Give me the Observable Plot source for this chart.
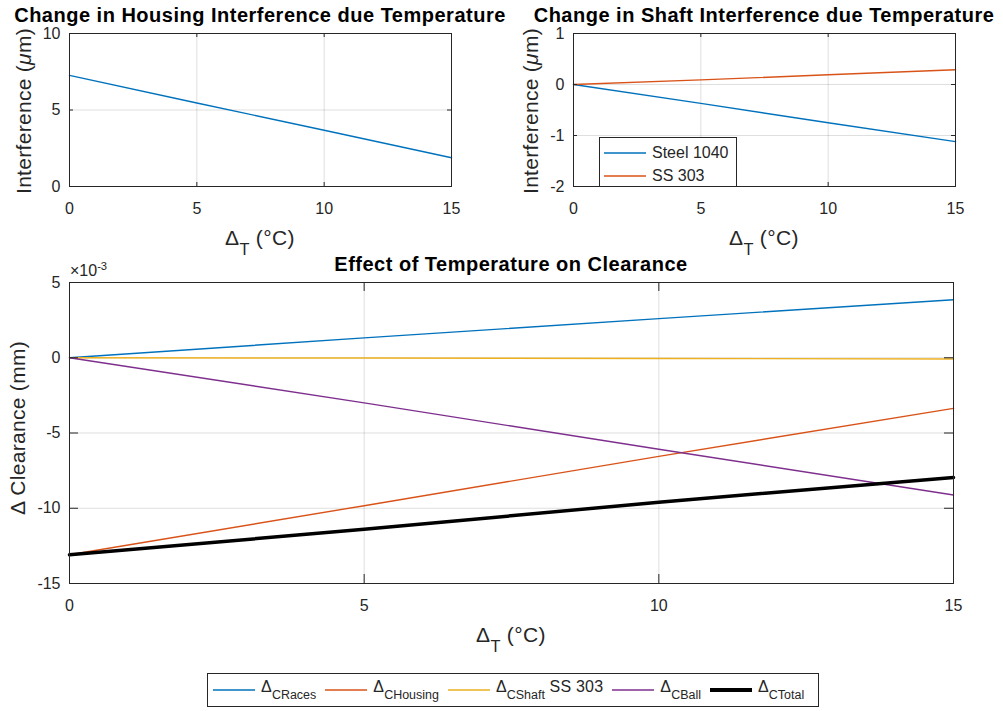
<!DOCTYPE html>
<html>
<head>
<meta charset="utf-8">
<script src="https://cdn.jsdelivr.net/npm/d3@7"></script>
<script src="https://cdn.jsdelivr.net/npm/@observablehq/plot@0.6"></script>
<style>
  body { margin: 0; background: #fff; }
  #fig { position: relative; width: 1003px; height: 711px; background: #fff; overflow: hidden;
         font-family: "Liberation Sans", Arial, Helvetica, sans-serif; color: #262626; }
  #fig svg { position: absolute; }
  .t { position: absolute; white-space: nowrap; line-height: 1; }
  .title { font-weight: bold; font-size: 20px; letter-spacing: 0.5px; color: #000; transform: translateX(-50%); }
  .xlab { font-size: 21px; letter-spacing: 0.4px; transform: translateX(-50%); }
  .ylab { font-size: 21px; letter-spacing: 0.3px; transform: translate(-50%, -50%) rotate(-90deg); }
  sub { font-size: 0.78em; vertical-align: -0.6em; line-height: 0; letter-spacing: 0; }
  sup { font-size: 0.7em; vertical-align: 0.5em; line-height: 0; }
  .legend { position: absolute; border: 1px solid #262626; background: #fff; box-sizing: border-box; font-size: 16px; white-space: nowrap; }
  .legend .item { display: flex; align-items: center; flex: none; white-space: nowrap; }
  .legend .swatch { display: inline-block; margin-right: 6px; flex: none; }
</style>
</head>
<body>
<div id="fig"></div>
<script>
// Temperature change (°C)
const deltaT = [0, 5, 10, 15];

// Housing interference vs temperature (µm)
const housingInterference = [7.26, 5.46, 3.68, 1.88];

// Shaft interference vs temperature (µm), two shaft materials
const shaftSteel1040 = [0, -0.37, -0.75, -1.12];
const shaftSS303 = [0, 0.09, 0.19, 0.29];

// Clearance changes (mm)
const cRaces   = [0, 0.00132, 0.00260, 0.00385];
const cHousing = [-0.01309, -0.00983, -0.00655, -0.00336];
const cShaft   = [0, -0.00002, -0.00005, -0.00008];
const cBall    = [0, -0.00300, -0.00608, -0.00912];
const cTotal   = [-0.01309, -0.01140, -0.00960, -0.00795];

// Tick values
const xTicks = [0, 5, 10, 15];
const yTicksHousing = [0, 5, 10];
const yTicksShaft = [-2, -1, 0, 1];
const yTicksClearance = [-0.015, -0.010, -0.005, 0, 0.005];

const colors = {blue: "#0072BD", orange: "#D95319", yellow: "#EDB120", purple: "#7E2F8E", black: "#000000"};
const axisColor = "#262626";

const rows = (ys) => deltaT.map((x, i) => ({x, y: ys[i]}));

function panel({width, height, margin, yDomain, yTicks, yFormat, series, tick}) {
  const [mt, mr, mb, ml] = margin;
  const iw = width - ml - mr, ih = height - mt - mb;
  return Plot.plot({
    width, height,
    marginTop: mt, marginRight: mr, marginBottom: mb, marginLeft: ml,
    style: {fontFamily: "'Liberation Sans', Arial, sans-serif", fontSize: "16px", color: axisColor, background: "transparent", overflow: "visible"},
    x: {domain: [0, 15]},
    y: {domain: yDomain},
    marks: [
      Plot.gridX(xTicks, {stroke: axisColor, strokeOpacity: 0.15}),
      Plot.gridY(yTicks, {stroke: axisColor, strokeOpacity: 0.15}),
      ...series.map(s => Plot.line(rows(s.values), {x: "x", y: "y", stroke: s.color, strokeWidth: s.width ?? 1.4})),
      Plot.frame({stroke: axisColor}),
      Plot.tickX(xTicks, {x: d => d, insetTop: ih - tick, stroke: axisColor}),
      Plot.tickX(xTicks, {x: d => d, insetBottom: ih - tick, stroke: axisColor}),
      Plot.tickY(yTicks, {y: d => d, insetRight: iw - tick, stroke: axisColor}),
      Plot.tickY(yTicks, {y: d => d, insetLeft: iw - tick, stroke: axisColor}),
      Plot.axisX(xTicks, {tickSize: 0, tickPadding: 16, label: null, tickFormat: d => d}),
      Plot.axisY(yTicks, {tickSize: 0, tickPadding: 9, label: null, tickFormat: yFormat ?? (d => d)})
    ]
  });
}

const fig = document.getElementById("fig");

function place(svg, left, top) {
  svg.style.left = left + "px";
  svg.style.top = top + "px";
  fig.appendChild(svg);
}

// Housing interference panel
place(panel({
  width: 480, height: 230, margin: [33, 29, 44, 69],
  yDomain: [0, 10], yTicks: yTicksHousing, tick: 4,
  series: [{values: housingInterference, color: colors.blue}]
}), 0, 0);

// Shaft interference panel
place(panel({
  width: 500, height: 230, margin: [33, 45, 44, 73],
  yDomain: [-2, 1], yTicks: yTicksShaft, tick: 4,
  series: [
    {values: shaftSteel1040, color: colors.blue},
    {values: shaftSS303, color: colors.orange}
  ]
}), 500, 0);

// Clearance panel
place(panel({
  width: 1003, height: 400, margin: [32, 50, 67, 69],
  yDomain: [-0.015, 0.005], yTicks: yTicksClearance, tick: 9,
  yFormat: d => Math.round(d * 1000),
  series: [
    {values: cRaces, color: colors.blue},
    {values: cHousing, color: colors.orange},
    {values: cShaft, color: colors.yellow},
    {values: cBall, color: colors.purple},
    {values: cTotal, color: colors.black, width: 3.5}
  ]
}), 0, 250);

// Text: titles and axis labels
const texts = [
  {cls: "title", x: 260, y: 5, html: "Change in Housing Interference due Temperature"},
  {cls: "title", x: 764, y: 5, html: "Change in Shaft Interference due Temperature"},
  {cls: "title", x: 511, y: 254, html: "Effect of Temperature on Clearance"},
  {cls: "xlab", x: 260, y: 227, html: "Δ<sub>T</sub> (°C)"},
  {cls: "xlab", x: 764, y: 227, html: "Δ<sub>T</sub> (°C)"},
  {cls: "xlab", x: 511, y: 624, html: "Δ<sub>T</sub> (°C)"},
  {cls: "ylab", x: 23, y: 111, html: "Interference (<i>μ</i>m)"},
  {cls: "ylab", x: 530, y: 111, html: "Interference (<i>μ</i>m)"},
  {cls: "ylab", x: 17, y: 428, html: "Δ Clearance (mm)"}
];
for (const t of texts) {
  const d = document.createElement("div");
  d.className = "t " + t.cls;
  d.style.left = t.x + "px";
  d.style.top = t.y + "px";
  d.innerHTML = t.html;
  fig.appendChild(d);
}

// Exponent label for the clearance axis
const expo = document.createElement("div");
expo.className = "t";
expo.style.cssText = "left:70px; top:263px; font-size:16px;";
expo.innerHTML = "×10<sup>-3</sup>";
fig.appendChild(expo);

// Legend helpers
function swatch(color, w) {
  return `<svg class="swatch" width="42" height="6" style="position:static"><line x1="0" x2="42" y1="3" y2="3" stroke="${color}" stroke-width="${w}"/></svg>`;
}

// Shaft material legend
const shaftNames = ["Steel 1040", "SS 303"];
const shaftColors = [colors.blue, colors.orange];
const lg1 = document.createElement("div");
lg1.className = "legend";
lg1.style.cssText = "left:599px; top:137px; width:138px; height:50px; padding:3px 0 0 4px;";
lg1.innerHTML = shaftNames.map((n, i) =>
  `<div class="item" style="height:23px">${swatch(shaftColors[i], 1.4)}<span>${n}</span></div>`).join("");
fig.appendChild(lg1);

// Clearance legend
const clearanceNames = ["Δ<sub>CRaces</sub>", "Δ<sub>CHousing</sub>", "Δ<sub>CShaft</sub> SS 303", "Δ<sub>CBall</sub>", "Δ<sub>CTotal</sub>"];
const clearanceColors = [colors.blue, colors.orange, colors.yellow, colors.purple, colors.black];
const lg2 = document.createElement("div");
lg2.className = "legend";
lg2.style.cssText = "left:207px; top:673px; width:612px; height:34px; padding:0 0 0 5px; display:flex; align-items:center; overflow:hidden;";
lg2.innerHTML = clearanceNames.map((n, i) =>
  `<div class="item" style="margin-right:9px">${swatch(clearanceColors[i], i === 4 ? 4 : 1.4)}<span style="padding-bottom:6px; letter-spacing:0.2px; white-space:nowrap">${n}</span></div>`).join("");
fig.appendChild(lg2);
</script>
</body>
</html>
